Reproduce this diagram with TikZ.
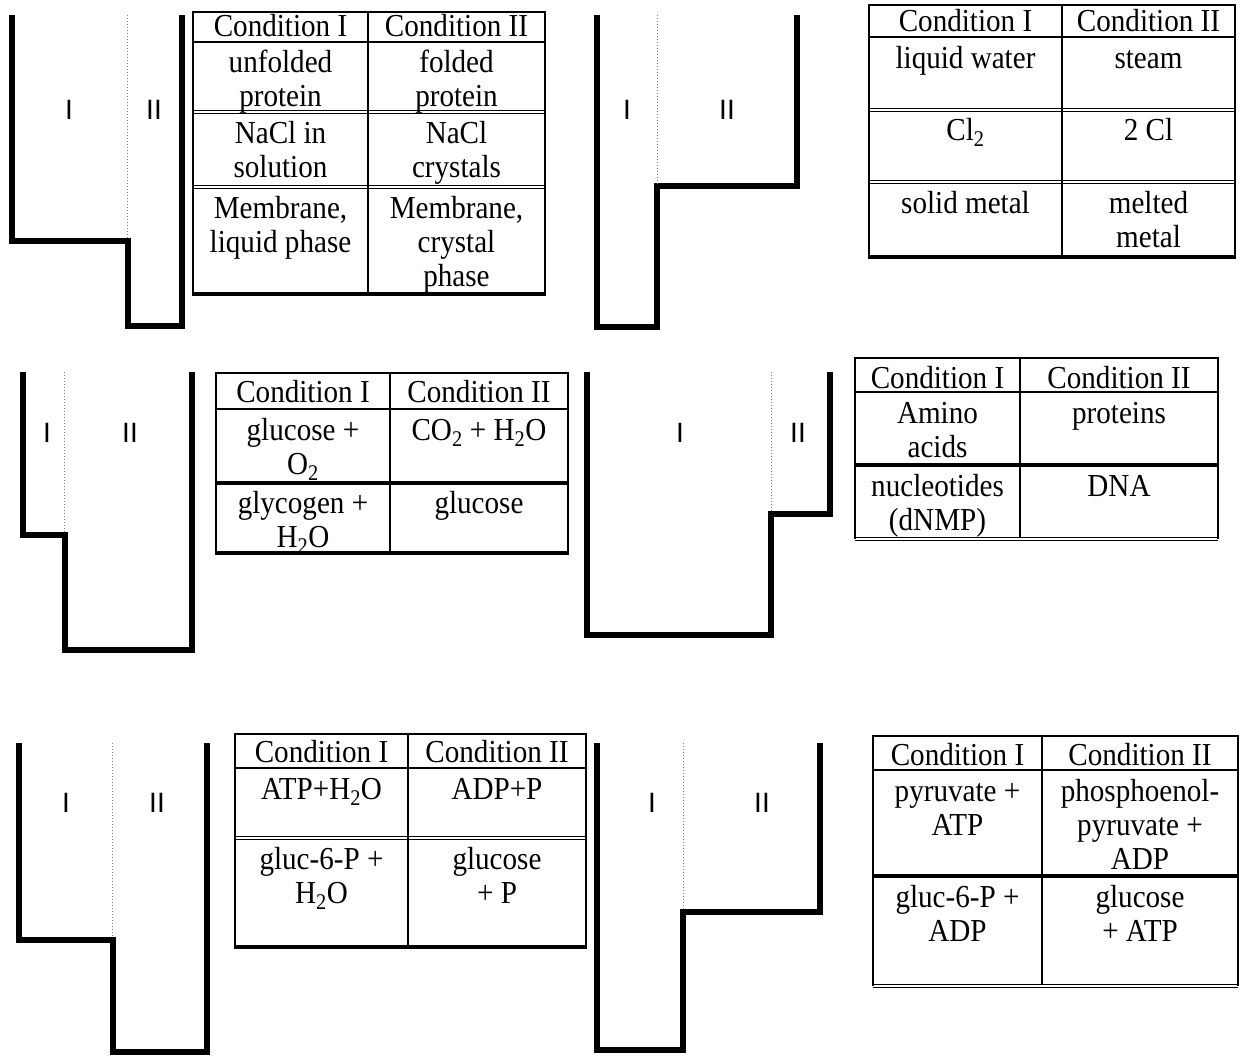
\documentclass[tikz,border=0pt]{standalone}
\usepackage{fontspec}
\setmainfont[FakeStretch=0.91]{Liberation Serif}
\newfontfamily\labelfont{Liberation Sans}
\begin{document}
\begin{tikzpicture}[x=1pt, y=-1pt,
    wall/.style={line width=6pt, line join=miter},
    divider/.style={gray, line width=0.8pt, dash pattern=on 0.8pt off 2.2pt},
    region/.style={font=\labelfont\fontsize{28}{30}\selectfont, inner sep=0pt},
    rule/.style={line width=1.8pt},
    heavyrule/.style={line width=3.6pt},
    doublerule/.style={double, line width=1pt, double distance=2pt},
    cell/.style={anchor=north, align=center, inner sep=0pt, yshift=23.8pt,
      font=\fontsize{32}{34}\selectfont}]
  % page in pixel units: 1241 x 1059, y grows downwards
  \fill[white] (0,0) rectangle (1241,1059);
  \useasboundingbox (0,0) rectangle (1241,1059);

  % ---- panel 1: wide I, step down into narrow II
  \draw[wall] (12,15) -- (12,241) -- (128,241) -- (128,326) -- (182,326) -- (182,15);
  \draw[divider] (127,15) -- (127,238);
  \node[region] (p1i) at (69,110) {I};
  \node[region] (p1ii) at (154,110) {II};
  % table 1: columns 193 | 368 | 545, rows 12, 42, 112, 187, 294
  \draw[rule] (193,42) -- (545,42);
  \draw[doublerule] (193,112) -- (545,112);
  \draw[doublerule] (193,187) -- (545,187);
  \draw[heavyrule] (193,294) -- (545,294);
  \draw[rule] (193,296) -- (193,12) -- (545,12) -- (545,296);
  \draw[rule] (368,12) -- (368,294);
  \node[cell] (t1a) at (280.5,36) {\strut Condition I};
  \node[cell] (t1b) at (456.5,36) {\strut Condition II};
  \node[cell] (t1c) at (280.5,72) {\strut unfolded\\protein};
  \node[cell] (t1d) at (456.5,72) {\strut folded\\protein};
  \node[cell] (t1e) at (280.5,143) {\strut NaCl in\\solution};
  \node[cell] (t1f) at (456.5,143) {\strut NaCl\\crystals};
  \node[cell] (t1g) at (280.5,218) {\strut Membrane,\\liquid phase};
  \node[cell] (t1h) at (456.5,218) {\strut Membrane,\\crystal\\phase};

  % ---- panel 2: narrow I goes deep, II sits on a high step
  \draw[wall] (597,15) -- (597,327) -- (657,327) -- (657,186) -- (797,186) -- (797,15);
  \draw[divider] (657,15) -- (657,184);
  \node[region] (p2i) at (627,110) {I};
  \node[region] (p2ii) at (727,110) {II};
  % table 2: columns 869 | 1062 | 1235, rows 5, 37, 110, 182, 257
  \draw[rule] (869,37) -- (1235,37);
  \draw[doublerule] (869,110) -- (1235,110);
  \draw[doublerule] (869,182) -- (1235,182);
  \draw[heavyrule] (869,257) -- (1235,257);
  \draw[rule] (869,259) -- (869,5) -- (1235,5) -- (1235,259);
  \draw[rule] (1062,5) -- (1062,257);
  \node[cell] (t2a) at (965.5,31) {\strut Condition I};
  \node[cell] (t2b) at (1148.5,31) {\strut Condition II};
  \node[cell] (t2c) at (965.5,68) {\strut liquid water};
  \node[cell] (t2d) at (1148.5,68) {\strut steam};
  \node[cell] (t2e) at (965.5,140) {\strut Cl\textsubscript{2}};
  \node[cell] (t2f) at (1148.5,140) {\strut 2 Cl};
  \node[cell] (t2g) at (965.5,213) {\strut solid metal};
  \node[cell] (t2h) at (1148.5,213) {\strut melted\\metal};

  % ---- panel 3: small high I, large low II
  \draw[wall] (23,372) -- (23,535) -- (65,535) -- (65,650) -- (192,650) -- (192,372);
  \draw[divider] (64,372) -- (64,533);
  \node[region] (p3i) at (47,433) {I};
  \node[region] (p3ii) at (130,433) {II};
  % table 3: columns 216 | 390 | 568, rows 373, 409, 483, 553
  \draw[rule] (216,409) -- (568,409);
  \draw[heavyrule] (216,483) -- (568,483);
  \draw[heavyrule] (216,553) -- (568,553);
  \draw[rule] (216,555) -- (216,373) -- (568,373) -- (568,555);
  \draw[rule] (390,373) -- (390,553);
  \node[cell] (t3a) at (303,402) {\strut Condition I};
  \node[cell] (t3b) at (479,402) {\strut Condition II};
  \node[cell] (t3c) at (303,440) {\strut glucose +\\O\textsubscript{2}};
  \node[cell] (t3d) at (479,440) {\strut CO\textsubscript{2} + H\textsubscript{2}O};
  \node[cell] (t3e) at (303,513) {\strut glycogen +\\H\textsubscript{2}O};
  \node[cell] (t3f) at (479,513) {\strut glucose};

  % ---- panel 4: large low I, small high II
  \draw[wall] (587,372) -- (587,635) -- (771,635) -- (771,514) -- (830,514) -- (830,372);
  \draw[divider] (771,372) -- (771,512);
  \node[region] (p4i) at (680,433) {I};
  \node[region] (p4ii) at (798,433) {II};
  % table 4: columns 855 | 1020 | 1218, rows 358, 392, 465, 538
  \draw[rule] (855,392) -- (1218,392);
  \draw[heavyrule] (855,465) -- (1218,465);
  \draw[doublerule] (855,539) -- (1218,539);
  \draw[rule] (855,539) -- (855,358) -- (1218,358) -- (1218,539);
  \draw[rule] (1020,358) -- (1020,538);
  \node[cell] (t4a) at (937.5,388) {\strut Condition I};
  \node[cell] (t4b) at (1119,388) {\strut Condition II};
  \node[cell] (t4c) at (937.5,423) {\strut Amino\\acids};
  \node[cell] (t4d) at (1119,423) {\strut proteins};
  \node[cell] (t4e) at (937.5,496) {\strut nucleotides\\(dNMP)};
  \node[cell] (t4f) at (1119,496) {\strut DNA};

  % ---- panel 5: wide high I, narrow low II
  \draw[wall] (19,743) -- (19,940) -- (113,940) -- (113,1052) -- (207,1052) -- (207,743);
  \draw[divider] (112,743) -- (112,938);
  \node[region] (p5i) at (66,803) {I};
  \node[region] (p5ii) at (157,803) {II};
  % table 5: columns 235 | 408 | 586, rows 734, 768, 838, 947
  \draw[rule] (235,768) -- (586,768);
  \draw[doublerule] (235,838) -- (586,838);
  \draw[heavyrule] (235,947) -- (586,947);
  \draw[rule] (235,949) -- (235,734) -- (586,734) -- (586,949);
  \draw[rule] (408,734) -- (408,947);
  \node[cell] (t5a) at (321.5,762) {\strut Condition I};
  \node[cell] (t5b) at (497,762) {\strut Condition II};
  \node[cell] (t5c) at (321.5,799) {\strut ATP+H\textsubscript{2}O};
  \node[cell] (t5d) at (497,799) {\strut ADP+P};
  \node[cell] (t5e) at (321.5,869) {\strut gluc-6-P +\\H\textsubscript{2}O};
  \node[cell] (t5f) at (497,869) {\strut glucose\\+ P};

  % ---- panel 6: narrow low I, wide high II
  \draw[wall] (597,743) -- (597,1050) -- (683,1050) -- (683,912) -- (820,912) -- (820,743);
  \draw[divider] (683,743) -- (683,910);
  \node[region] (p6i) at (652,803) {I};
  \node[region] (p6ii) at (762,803) {II};
  % table 6: columns 873 | 1042 | 1238, rows 736, 770, 876, 985
  \draw[rule] (873,770) -- (1238,770);
  \draw[heavyrule] (873,876) -- (1238,876);
  \draw[doublerule] (873,986) -- (1238,986);
  \draw[rule] (873,986) -- (873,736) -- (1238,736) -- (1238,986);
  \draw[rule] (1042,736) -- (1042,985);
  \node[cell] (t6a) at (957.5,765) {\strut Condition I};
  \node[cell] (t6b) at (1140,765) {\strut Condition II};
  \node[cell] (t6c) at (957.5,801) {\strut pyruvate +\\ATP};
  \node[cell] (t6d) at (1140,801) {\strut phosphoenol-\\pyruvate +\\ADP};
  \node[cell] (t6e) at (957.5,907) {\strut gluc-6-P +\\ADP};
  \node[cell] (t6f) at (1140,907) {\strut glucose\\+ ATP};
\end{tikzpicture}
\end{document}
